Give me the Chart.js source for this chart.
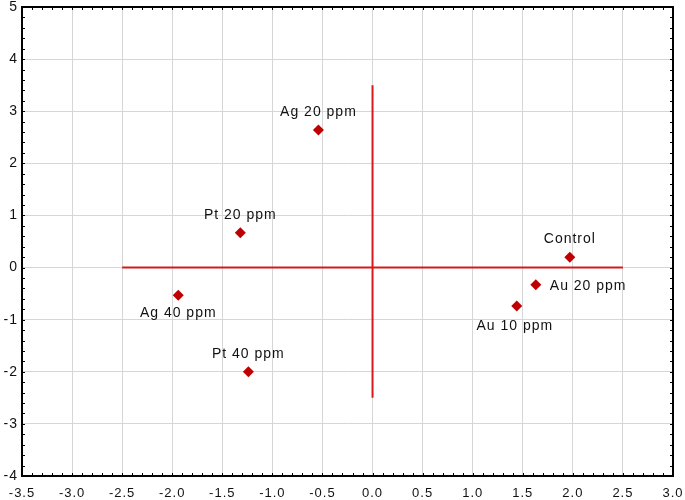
<!DOCTYPE html>
<html>
<head>
<meta charset="UTF-8">
<title>Scatter</title>
<script src="https://cdn.jsdelivr.net/npm/chart.js"></script>
<style>
  html, body { margin: 0; padding: 0; background: #fff; }
  #wrap { width: 685px; height: 500px; }
</style>
</head>
<body>
<div id="wrap"><canvas id="grafico"></canvas></div>
<script>
// data
const labels = ['Ag 20 ppm', 'Pt 20 ppm', 'Control', 'Au 20 ppm', 'Au 10 ppm', 'Ag 40 ppm', 'Pt 40 ppm'];
const xVals = [-0.54, -1.32, 1.97, 1.63, 1.44, -1.94, -1.24];
const yVals = [2.64, 0.67, 0.20, -0.33, -0.74, -0.53, -2.0];
const hLine = [{x: -2.5, y: 0}, {x: 2.5, y: 0}];
const vLine = [{x: 0, y: -2.5}, {x: 0, y: 3.5}];

// where each label sits relative to its point
const labelPos = ['above', 'above', 'above', 'right', 'belowLeft', 'below', 'above'];

const pts = xVals.map((x, i) => ({x: x, y: yVals[i]}));
const FONT = '"Liberation Sans", Arial, sans-serif';

const frame = {
  id: 'frame',
  beforeDraw(chart) {
    chart.ctx.letterSpacing = '1px';
  },
  afterDraw(chart) {
    const ctx = chart.ctx, a = chart.chartArea;
    const xs = chart.scales.x, ys = chart.scales.y;
    ctx.save();
    ctx.strokeStyle = '#000';
    ctx.lineWidth = 1;
    ctx.beginPath();
    for (let v = -3.5; v <= 3.001; v += 0.1) {
      const px = Math.round(xs.getPixelForValue(v)) + 0.5;
      ctx.moveTo(px, a.bottom); ctx.lineTo(px, a.bottom - 3);
      ctx.moveTo(px, a.top); ctx.lineTo(px, a.top + 3);
    }
    for (let v = -4; v <= 5.001; v += 0.2) {
      const py = Math.round(ys.getPixelForValue(v)) + 0.5;
      ctx.moveTo(a.left, py); ctx.lineTo(a.left + 3, py);
      ctx.moveTo(a.right, py); ctx.lineTo(a.right - 3, py);
    }
    ctx.stroke();
    ctx.lineWidth = 2;
    ctx.strokeRect(a.left, a.top, a.right - a.left, a.bottom - a.top);

    // point labels
    ctx.fillStyle = '#111';
    ctx.font = '14px ' + FONT;
    ctx.letterSpacing = '1px';
    const meta = chart.getDatasetMeta(2);
    meta.data.forEach((el, i) => {
      const p = labelPos[i];
      let tx = el.x, ty = el.y;
      ctx.textBaseline = 'middle';
      if (p === 'above') { ctx.textAlign = 'center'; ty -= 18; }
      else if (p === 'below') { ctx.textAlign = 'center'; ty += 18; }
      else if (p === 'right') { ctx.textAlign = 'left'; tx += 14; ty += 1; }
      else if (p === 'belowLeft') { ctx.textAlign = 'center'; tx -= 2; ty += 20; }
      ctx.fillText(labels[i], tx, ty);
    });
    ctx.restore();
  }
};

const red = '#d41a1a';
new Chart(document.getElementById('grafico'), {
  type: 'scatter',
  data: {
    datasets: [
      { data: hLine, showLine: true, borderColor: red, borderWidth: 2, pointRadius: 0 },
      { data: vLine, showLine: true, borderColor: red, borderWidth: 2, pointRadius: 0 },
      { data: pts, pointStyle: 'rectRot', pointRadius: 5.5, backgroundColor: '#c00000', borderColor: '#c00000', borderWidth: 0 }
    ]
  },
  options: {
    responsive: true,
    maintainAspectRatio: false,
    animation: false,
    layout: { padding: { top: 7, right: 12, left: 0, bottom: 0 } },
    plugins: { legend: { display: false }, tooltip: { enabled: false } },
    scales: {
      x: {
        type: 'linear', min: -3.5, max: 3.0,
        afterBuildTicks(s) { const t = []; for (let v = -3.5; v <= 3.001; v += 0.5) t.push({value: Math.round(v * 10) / 10}); s.ticks = t; },
        afterFit(s) { s.height = 24; s.paddingLeft = 0; s.paddingRight = 0; },
        ticks: { color: '#111', padding: 10, font: { size: 13, family: FONT }, callback: v => v.toFixed(1), maxRotation: 0 },
        grid: { color: '#d6d6d6', lineWidth: 1, drawTicks: false },
        border: { display: false }
      },
      y: {
        type: 'linear', min: -4, max: 5,
        ticks: { stepSize: 1, color: '#111', padding: 4, font: { size: 14, family: FONT } },
        afterFit(s) { s.width = 22; s.paddingTop = 0; s.paddingBottom = 0; },
        grid: { color: '#d6d6d6', lineWidth: 1, drawTicks: false },
        border: { display: false }
      }
    }
  },
  plugins: [frame]
});
</script>
</body>
</html>
